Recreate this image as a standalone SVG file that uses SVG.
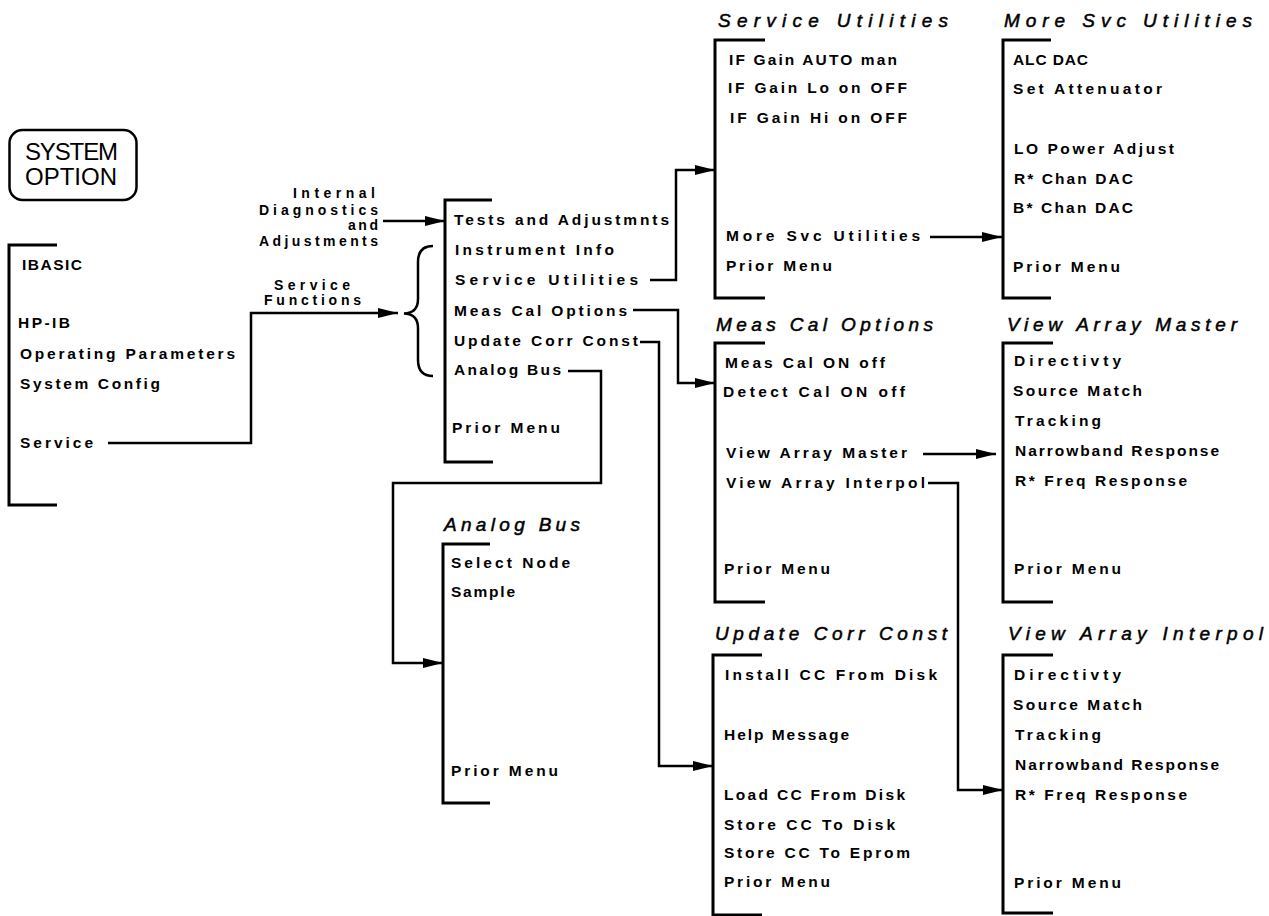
<svg xmlns="http://www.w3.org/2000/svg" width="1269" height="916" viewBox="0 0 1269 916">
<defs>
<style>
.it{font-family:"Liberation Sans",Arial,sans-serif;font-weight:bold;font-size:15.5px;fill:#000}
.lb{font-family:"Liberation Sans",Arial,sans-serif;font-weight:bold;font-size:14px;fill:#000}
.tt{font-family:"Liberation Sans",Arial,sans-serif;font-style:italic;font-size:19px;fill:#000;stroke:#000;stroke-width:0.5}
.sys{font-family:"Liberation Sans",Arial,sans-serif;font-size:24px;fill:#000}
.br{fill:none;stroke:#000;stroke-width:3}
.cn{fill:none;stroke:#000;stroke-width:2.5}
</style>
<marker id="arr" markerWidth="20" markerHeight="10" refX="20" refY="5" orient="auto" markerUnits="userSpaceOnUse"><path d="M0,0 L20,5 L0,10 Z" fill="#000"/></marker>
</defs>
<rect width="1269" height="916" fill="#fff"/>

<g id="system-option">
<rect x="9.5" y="130" width="127" height="70" rx="13" fill="none" stroke="#000" stroke-width="2.5"/>
<text class="sys" x="25" y="160" textLength="93" lengthAdjust="spacing">SYSTEM</text>
<text class="sys" x="25" y="185" textLength="92" lengthAdjust="spacing">OPTION</text>
</g>

<g id="main-menu">
<path class="br" d="M57,245 H9 V505 H57"/>
<text class="it" x="22" y="270" textLength="60" lengthAdjust="spacing">IBASIC</text>
<text class="it" x="18" y="328" textLength="52" lengthAdjust="spacing">HP-IB</text>
<text class="it" x="20" y="359" textLength="215" lengthAdjust="spacing">Operating Parameters</text>
<text class="it" x="20" y="389" textLength="140" lengthAdjust="spacing">System Config</text>
<text class="it" x="20" y="448" textLength="73" lengthAdjust="spacing">Service</text>
</g>

<g id="service-functions-menu">
<path class="br" d="M492,200 H445 V462 H493"/>
<text class="it" x="454" y="225" textLength="215" lengthAdjust="spacing">Tests and Adjustmnts</text>
<text class="it" x="455" y="255" textLength="159" lengthAdjust="spacing">Instrument Info</text>
<text class="it" x="455" y="285" textLength="183" lengthAdjust="spacing">Service Utilities</text>
<text class="it" x="454" y="316" textLength="173" lengthAdjust="spacing">Meas Cal Options</text>
<text class="it" x="454" y="346" textLength="184" lengthAdjust="spacing">Update Corr Const</text>
<text class="it" x="454" y="375" textLength="107" lengthAdjust="spacing">Analog Bus</text>
<text class="it" x="452" y="433" textLength="108" lengthAdjust="spacing">Prior Menu</text>
</g>

<g id="service-utilities">
<text class="tt" x="718" y="27" textLength="230" lengthAdjust="spacing">Service Utilities</text>
<path class="br" d="M765,40 H715 V298 H765"/>
<text class="it" x="729" y="65" textLength="168" lengthAdjust="spacing">IF Gain AUTO man</text>
<text class="it" x="728" y="93" textLength="179" lengthAdjust="spacing">IF Gain Lo on OFF</text>
<text class="it" x="730" y="123" textLength="177" lengthAdjust="spacing">IF Gain Hi on OFF</text>
<text class="it" x="726" y="241" textLength="194" lengthAdjust="spacing">More Svc Utilities</text>
<text class="it" x="726" y="271" textLength="106" lengthAdjust="spacing">Prior Menu</text>
</g>

<g id="more-svc-utilities">
<text class="tt" x="1004" y="27" textLength="248" lengthAdjust="spacing">More Svc Utilities</text>
<path class="br" d="M1051,40 H1003 V298 H1051"/>
<text class="it" x="1013" y="65" textLength="75" lengthAdjust="spacing">ALC DAC</text>
<text class="it" x="1013" y="94" textLength="149" lengthAdjust="spacing">Set Attenuator</text>
<text class="it" x="1014" y="154" textLength="160" lengthAdjust="spacing">LO Power Adjust</text>
<text class="it" x="1014" y="184" textLength="119" lengthAdjust="spacing">R* Chan DAC</text>
<text class="it" x="1013" y="213" textLength="120" lengthAdjust="spacing">B* Chan DAC</text>
<text class="it" x="1013" y="272" textLength="107" lengthAdjust="spacing">Prior Menu</text>
</g>

<g id="meas-cal-options">
<text class="tt" x="716" y="331" textLength="217" lengthAdjust="spacing">Meas Cal Options</text>
<path class="br" d="M765,343 H715 V602 H765"/>
<text class="it" x="725" y="368" textLength="160" lengthAdjust="spacing">Meas Cal ON off</text>
<text class="it" x="723" y="397" textLength="182" lengthAdjust="spacing">Detect Cal ON off</text>
<text class="it" x="726" y="458" textLength="181" lengthAdjust="spacing">View Array Master</text>
<text class="it" x="726" y="488" textLength="199" lengthAdjust="spacing">View Array Interpol</text>
<text class="it" x="724" y="574" textLength="106" lengthAdjust="spacing">Prior Menu</text>
</g>

<g id="view-array-master">
<text class="tt" x="1007" y="331" textLength="230" lengthAdjust="spacing">View Array Master</text>
<path class="br" d="M1053,343 H1003 V602 H1053"/>
<text class="it" x="1014" y="366" textLength="107" lengthAdjust="spacing">Directivty</text>
<text class="it" x="1013" y="396" textLength="129" lengthAdjust="spacing">Source Match</text>
<text class="it" x="1015" y="426" textLength="86" lengthAdjust="spacing">Tracking</text>
<text class="it" x="1015" y="456" textLength="204" lengthAdjust="spacing">Narrowband Response</text>
<text class="it" x="1015" y="486" textLength="172" lengthAdjust="spacing">R* Freq Response</text>
<text class="it" x="1014" y="574" textLength="107" lengthAdjust="spacing">Prior Menu</text>
</g>

<g id="analog-bus">
<text class="tt" x="444" y="531" textLength="136" lengthAdjust="spacing">Analog Bus</text>
<path class="br" d="M490,544 H443 V803 H490"/>
<text class="it" x="451" y="568" textLength="119" lengthAdjust="spacing">Select Node</text>
<text class="it" x="451" y="597" textLength="64" lengthAdjust="spacing">Sample</text>
<text class="it" x="451" y="776" textLength="107" lengthAdjust="spacing">Prior Menu</text>
</g>

<g id="update-corr-const">
<text class="tt" x="715" y="640" textLength="232" lengthAdjust="spacing">Update Corr Const</text>
<path class="br" d="M762,655 H713 V915 H762"/>
<text class="it" x="725" y="680" textLength="212" lengthAdjust="spacing">Install CC From Disk</text>
<text class="it" x="724" y="740" textLength="125" lengthAdjust="spacing">Help Message</text>
<text class="it" x="724" y="800" textLength="181" lengthAdjust="spacing">Load CC From Disk</text>
<text class="it" x="724" y="830" textLength="171" lengthAdjust="spacing">Store CC To Disk</text>
<text class="it" x="724" y="858" textLength="186" lengthAdjust="spacing">Store CC To Eprom</text>
<text class="it" x="724" y="887" textLength="106" lengthAdjust="spacing">Prior Menu</text>
</g>

<g id="view-array-interpol">
<text class="tt" x="1008" y="640" textLength="255" lengthAdjust="spacing">View Array Interpol</text>
<path class="br" d="M1053,655 H1003 V913 H1053"/>
<text class="it" x="1014" y="680" textLength="107" lengthAdjust="spacing">Directivty</text>
<text class="it" x="1013" y="710" textLength="129" lengthAdjust="spacing">Source Match</text>
<text class="it" x="1015" y="740" textLength="86" lengthAdjust="spacing">Tracking</text>
<text class="it" x="1015" y="770" textLength="204" lengthAdjust="spacing">Narrowband Response</text>
<text class="it" x="1015" y="800" textLength="172" lengthAdjust="spacing">R* Freq Response</text>
<text class="it" x="1014" y="888" textLength="107" lengthAdjust="spacing">Prior Menu</text>
</g>

<g id="connectors">
<path class="cn" d="M108,443 H251 V313 H398" marker-end="url(#arr)"/>
<text class="lb" x="274" y="290" textLength="76" lengthAdjust="spacing">Service</text>
<text class="lb" x="264" y="305" textLength="97" lengthAdjust="spacing">Functions</text>
<path class="cn" d="M433,246 Q418,246 418,262 V299 Q418,313 404,313.5 Q418,314 418,328 V360 Q418,376 433,376"/>
<path class="cn" d="M383,221 H445" marker-end="url(#arr)"/>
<text class="lb" x="293" y="198" textLength="82" lengthAdjust="spacing">Internal</text>
<text class="lb" x="259" y="215" textLength="119" lengthAdjust="spacing">Diagnostics</text>
<text class="lb" x="348" y="230" textLength="30" lengthAdjust="spacing">and</text>
<text class="lb" x="259" y="246" textLength="119" lengthAdjust="spacing">Adjustments</text>
<path class="cn" d="M650,280 H676 V170 H715" marker-end="url(#arr)"/>
<path class="cn" d="M930,237 H1002" marker-end="url(#arr)"/>
<path class="cn" d="M633,310 H678 V383 H715" marker-end="url(#arr)"/>
<path class="cn" d="M640,342 H659 V766 H713" marker-end="url(#arr)"/>
<path class="cn" d="M568,371 H601 V483 H393 V663 H443" marker-end="url(#arr)"/>
<path class="cn" d="M923,454 H996" marker-end="url(#arr)"/>
<path class="cn" d="M928,483 H958 V790 H1003" marker-end="url(#arr)"/>
</g>
</svg>
